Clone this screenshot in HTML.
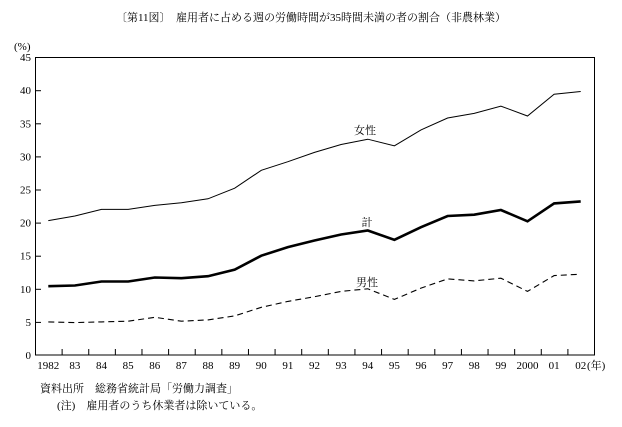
<!DOCTYPE html><html><head><meta charset="utf-8"><style>body{margin:0;background:#fff}svg{display:block}text{font-family:"Liberation Serif","Noto Serif CJK SC",serif;fill:#000}</style></head><body>
<svg width="622" height="427" xmlns="http://www.w3.org/2000/svg">
<text x="311" y="21" font-size="11" text-anchor="middle">〔第11図〕　雇用者に占める週の労働時間が35時間未満の者の割合（非農林業）</text>
<text x="14" y="50" font-size="11">(%)</text>
<rect x="35.5" y="57.5" width="559" height="297.5" fill="none" stroke="#000" stroke-width="1"/>
<g font-size="11" text-anchor="end" id="y"></g>
<g id="x" font-size="11" text-anchor="middle"></g>
<g id="s" fill="none" stroke="#000"></g>
<text x="365" y="134" font-size="11" text-anchor="middle">女性</text>
<text x="367" y="226" font-size="11" text-anchor="middle">計</text>
<text x="367" y="286" font-size="11" text-anchor="middle">男性</text>
<text x="587" y="369" font-size="11">(年)</text>
<text x="40" y="392" font-size="11">資料出所　総務省統計局「労働力調査」</text>
<text x="57" y="409" font-size="11">(注)　雇用者のうち休業者は除いている。</text>
</svg>
<script>
const ns="http://www.w3.org/2000/svg";
function el(p,t,a,txt){const e=document.createElementNS(ns,t);for(const k in a)e.setAttribute(k,a[k]);if(txt!=null)e.textContent=txt;document.getElementById(p).appendChild(e);}
const Y=v=>355-v*6.62, X=i=>35+26.62*(i+0.5);
for(let v=0;v<=45;v+=5){el("y","text",{x:31,y:Y(v)+4},v);if(v>0&&v<45)el("y","line",{x1:35,x2:41,y1:Y(v)+.5,y2:Y(v)+.5,stroke:"#000"});}
const L=["1982","83","84","85","86","87","88","89","90","91","92","93","94","95","96","97","98","99","2000","01","02"];
L.forEach((l,i)=>{el("x","text",{x:X(i),y:369},l);if(i<20)el("x","line",{x1:35+26.62*(i+1)+.5,x2:35+26.62*(i+1)+.5,y1:355,y2:349,stroke:"#000"});});
const f=[20.3,21.0,22.0,22.0,22.6,23.0,23.6,25.2,27.9,29.2,30.6,31.8,32.6,31.6,34.0,35.8,36.5,37.6,36.1,39.4,39.8];
const t=[10.4,10.5,11.1,11.1,11.7,11.6,11.9,12.9,15.0,16.3,17.3,18.2,18.8,17.4,19.3,21.0,21.2,21.9,20.2,22.9,23.2];
const m=[5.0,4.9,5.0,5.1,5.7,5.1,5.3,5.9,7.2,8.1,8.8,9.6,10.0,8.4,10.1,11.5,11.2,11.6,9.6,12.0,12.2];
const pts=a=>a.map((v,i)=>X(i).toFixed(1)+","+Y(v).toFixed(1)).join(" ");
el("s","polyline",{points:pts(f),"stroke-width":1});
el("s","polyline",{points:pts(t),"stroke-width":2.6});
el("s","polyline",{points:pts(m),"stroke-width":1.1,"stroke-dasharray":"6,4"});
</script>
</body></html>
